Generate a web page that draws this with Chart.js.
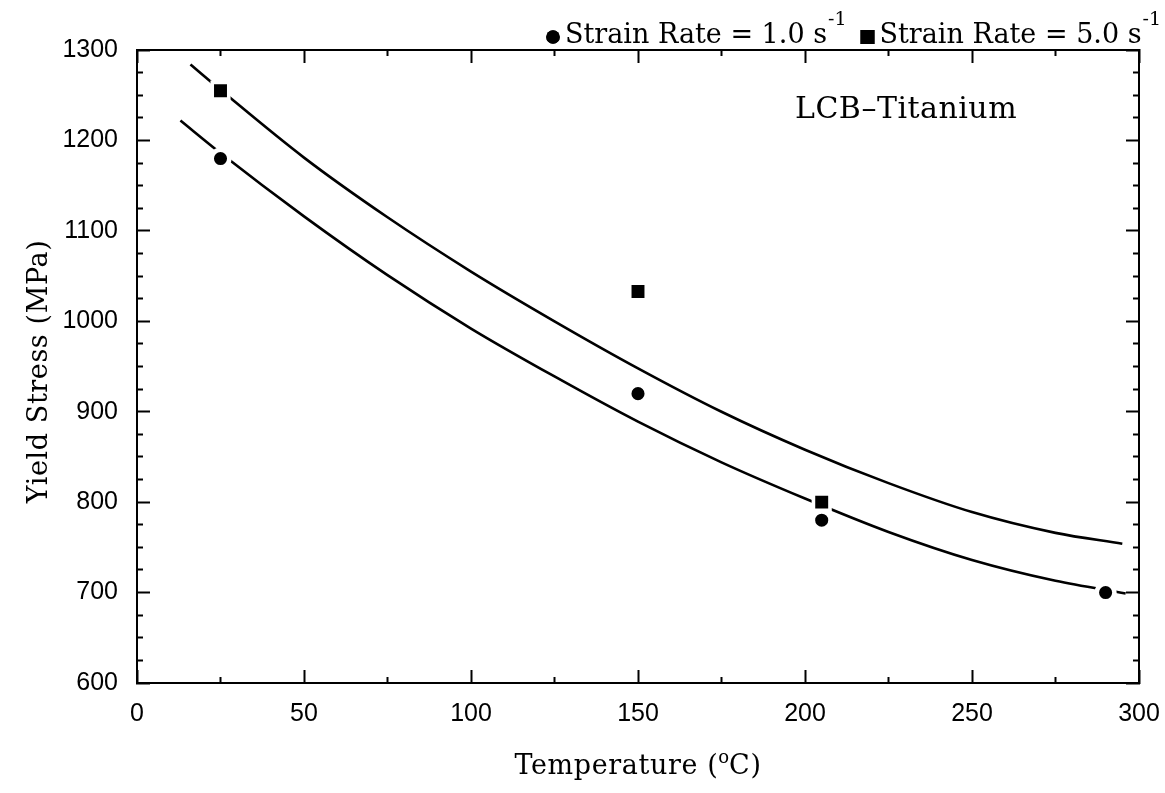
<!DOCTYPE html>
<html>
<head>
<meta charset="utf-8">
<script src="https://cdn.jsdelivr.net/npm/chart.js@4.4.1/dist/chart.umd.min.js"></script>
<style>
  html, body { margin: 0; padding: 0; background: #fff; }
  #wrap { width: 1165px; height: 793px; }
</style>
</head>
<body>
<div id="wrap"><canvas id="yieldChart"></canvas></div>
<script>
  // measured yield stress, strain rate 1.0 /s
  const rate1Temps = [25, 150, 205, 290];
  const rate1Stress = [1180, 920, 780, 700];
  // measured yield stress, strain rate 5.0 /s
  const rate5Temps = [25, 150, 205];
  const rate5Stress = [1255, 1033, 800];

  // fitted curves
  const fit1Temps = [13, 25, 50, 75, 100, 125, 150, 175, 200, 225, 250, 275, 296];
  const fit1Stress = [1222, 1186, 1116, 1051, 992, 939, 889, 844, 804, 767, 736, 713, 699];
  const fit5Temps = [16, 25, 50, 75, 100, 125, 150, 175, 200, 225, 250, 275, 295];
  const fit5Stress = [1284, 1256, 1181, 1115, 1055, 1000, 948, 900, 858, 821, 789, 766, 754];

  const xLabels = [0, 50, 100, 150, 200, 250, 300];
  const yLabels = [600, 700, 800, 900, 1000, 1100, 1200, 1300];

  const legendItems = [
    { style: 'circle', text: 'Strain Rate = 1.0 s', sup: '-1' },
    { style: 'rect', text: 'Strain Rate = 5.0 s', sup: '-1' }
  ];
  const noteText = 'LCB\u2013Titanium';
  const notePos = { x: 197, y: 1225 };

  const pts = (xs, ys) => xs.map((x, i) => ({ x: x, y: ys[i] }));

  const SERIF = '"DejaVu Serif"';

  // inward tick marks: long at labelled values, short in between
  function tickGrid(isMajor, inwardFirst) {
    return {
      drawOnChartArea: false,
      drawTicks: true,
      tickLength: -13,
      tickWidth: 2,
      tickColor: '#000',
      tickBorderDash: (c) => isMajor(c.tick.value) ? [] : (inwardFirst ? [7, 7] : [7, 20]),
      tickBorderDashOffset: (c) => isMajor(c.tick.value) ? 0 : (inwardFirst ? 7 : 0)
    };
  }
  const xMajor = v => v % 50 === 0;
  const yMajor = v => v % 100 === 0;
  const axisBorder = { display: true, color: '#000', width: 2 };
  const tickFont = { family: 'Liberation Sans', size: 25 };

  function spaced(ctx, str, x, y, spacing) {
    ctx.letterSpacing = spacing + 'px';
    ctx.fillText(str, x, y);
    const w = ctx.measureText(str).width;
    ctx.letterSpacing = '0px';
    return w;
  }
  function widthOf(ctx, str, spacing) {
    ctx.letterSpacing = spacing + 'px';
    const w = ctx.measureText(str).width;
    ctx.letterSpacing = '0px';
    return w;
  }

  const textLayer = {
    id: 'textLayer',
    afterDraw(chart) {
      const { ctx, chartArea, scales } = chart;
      ctx.save();
      ctx.fillStyle = '#000';
      ctx.strokeStyle = '#000';
      ctx.textAlign = 'left';
      ctx.textBaseline = 'alphabetic';

      // x axis title with raised "o"
      const cx = (chartArea.left + chartArea.right) / 2;
      ctx.font = '27px ' + SERIF;
      const wA = widthOf(ctx, 'Temperature (', 0.6);
      const wC = widthOf(ctx, 'C)', 0.6);
      ctx.font = '18px ' + SERIF;
      const wO = widthOf(ctx, 'o', 0);
      let x = cx - (wA + wO + wC) / 2;
      ctx.font = '27px ' + SERIF;
      x += spaced(ctx, 'Temperature (', x, 774, 0.6);
      ctx.font = '18px ' + SERIF;
      x += spaced(ctx, 'o', x, 763, 0);
      ctx.font = '27px ' + SERIF;
      spaced(ctx, 'C)', x, 774, 0.6);

      // y axis title
      ctx.save();
      ctx.translate(47, (chartArea.top + chartArea.bottom) / 2 + 5);
      ctx.rotate(-Math.PI / 2);
      ctx.font = '27px ' + SERIF;
      const wy = widthOf(ctx, 'Yield Stress (MPa)', 0.6);
      spaced(ctx, 'Yield Stress (MPa)', -wy / 2, 0, 0.6);
      ctx.restore();

      // material label inside the plot
      ctx.font = '30px ' + SERIF;
      spaced(ctx, noteText, scales.x.getPixelForValue(notePos.x), scales.y.getPixelForValue(notePos.y), 0.5);

      // legend above the plot, right side
      let lx = 553;
      legendItems.forEach((item) => {
        Chart.helpers.drawPoint(ctx, { pointStyle: item.style, radius: item.style === 'rect' ? 9.9 : 6.8, rotation: 0, borderWidth: 0 }, lx, 37);
        ctx.fill();
        let tx = lx + 12;
        ctx.font = '27px ' + SERIF;
        tx += spaced(ctx, item.text, tx, 43, 0);
        ctx.font = '19px ' + SERIF;
        tx += spaced(ctx, item.sup, tx + 1, 25, 0);
        lx = tx + 22;
      });
      ctx.restore();
    }
  };

  new Chart(document.getElementById('yieldChart'), {
    type: 'scatter',
    data: {
      datasets: [
        {
          label: 'Strain Rate = 1.0 s-1',
          data: pts(rate1Temps, rate1Stress),
          pointStyle: 'circle',
          pointRadius: 8.8,
          pointHoverRadius: 8.8,
          pointBackgroundColor: '#000',
          pointBorderColor: '#fff',
          pointBorderWidth: 4.5,
          order: 0
        },
        {
          label: 'Strain Rate = 5.0 s-1',
          data: pts(rate5Temps, rate5Stress),
          pointStyle: 'rect',
          pointRadius: 11.7,
          pointHoverRadius: 11.7,
          pointBackgroundColor: '#000',
          pointBorderColor: '#fff',
          pointBorderWidth: 3.6,
          order: 0
        },
        {
          label: 'fit 1.0',
          data: pts(fit1Temps, fit1Stress),
          showLine: true,
          borderColor: '#000',
          borderWidth: 2.6,
          pointRadius: 0,
          cubicInterpolationMode: 'monotone',
          order: 1
        },
        {
          label: 'fit 5.0',
          data: pts(fit5Temps, fit5Stress),
          showLine: true,
          borderColor: '#000',
          borderWidth: 2.6,
          pointRadius: 0,
          cubicInterpolationMode: 'monotone',
          order: 1
        }
      ]
    },
    options: {
      responsive: true,
      maintainAspectRatio: false,
      animation: false,
      events: [],
      layout: { padding: { top: 50, right: 26, left: 0, bottom: 0 } },
      plugins: {
        legend: { display: false },
        tooltip: { enabled: false }
      },
      scales: {
        x: {
          type: 'linear',
          position: 'bottom',
          min: 0,
          max: 300,
          afterFit: (s) => { s.height = 110; s.paddingLeft = 0; s.paddingRight = 0; },
          ticks: {
            stepSize: 25,
            autoSkip: false,
            maxRotation: 0,
            padding: 29,
            color: '#000',
            font: tickFont,
            callback: (v) => xLabels.includes(v) ? String(v) : ''
          },
          grid: tickGrid(xMajor, false),
          border: axisBorder
        },
        xTop: {
          type: 'linear',
          position: 'top',
          display: true,
          min: 0,
          max: 300,
          afterFit: (s) => { s.height = 0; s.paddingLeft = 0; s.paddingRight = 0; },
          ticks: { stepSize: 25, display: false },
          grid: tickGrid(xMajor, true),
          border: axisBorder
        },
        y: {
          type: 'linear',
          position: 'left',
          min: 600,
          max: 1300,
          afterFit: (s) => { s.width = 137; s.paddingTop = 0; s.paddingBottom = 0; },
          ticks: {
            stepSize: 25,
            autoSkip: false,
            padding: 32,
            color: '#000',
            font: tickFont,
            callback: (v) => yLabels.includes(v) ? String(v) : ''
          },
          grid: tickGrid(yMajor, true),
          border: axisBorder
        },
        yRight: {
          type: 'linear',
          position: 'right',
          display: true,
          min: 600,
          max: 1300,
          afterFit: (s) => { s.width = 0; s.paddingTop = 0; s.paddingBottom = 0; },
          ticks: { stepSize: 25, display: false },
          grid: tickGrid(yMajor, false),
          border: axisBorder
        }
      }
    },
    plugins: [textLayer]
  });
</script>
</body>
</html>
